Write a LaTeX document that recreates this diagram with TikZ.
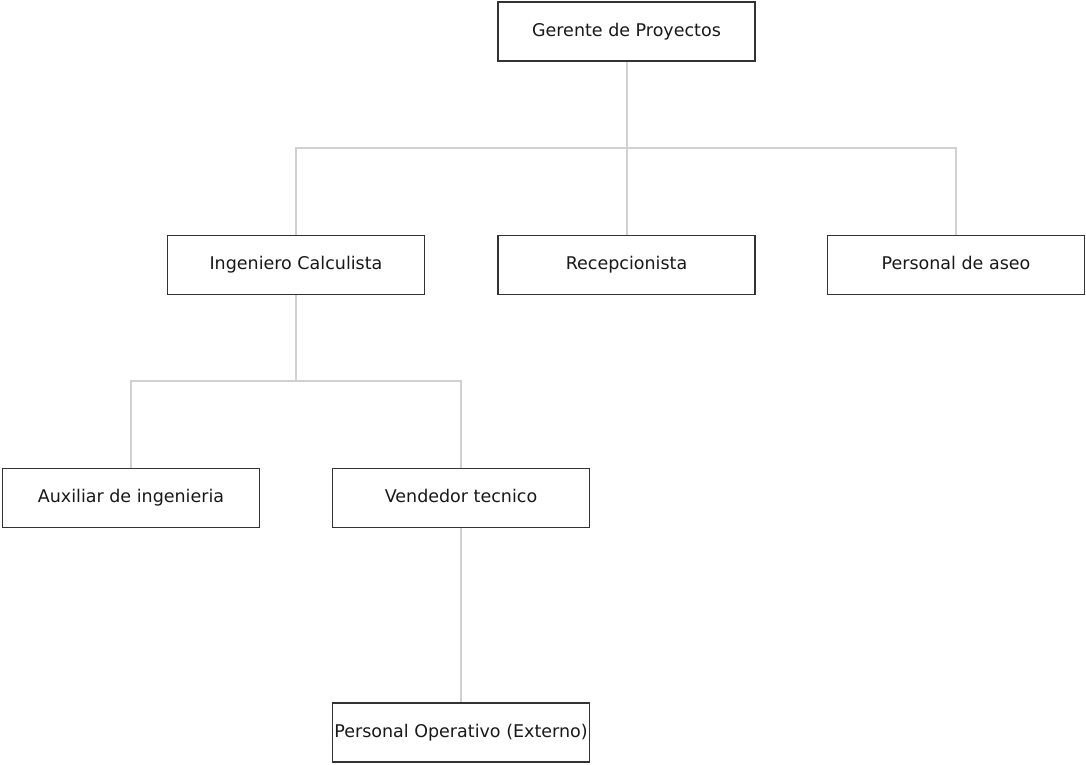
\documentclass[tikz,border=0pt]{standalone}
\usepackage{fontspec}
\setmainfont{DejaVu Sans}
\usetikzlibrary{backgrounds}
\begin{document}
\begin{tikzpicture}[x=1pt,y=-1pt,
  box/.style={draw=black!80, line width=1.5pt, fill=white, minimum width=257pt, minimum height=59pt, inner sep=0pt, text height=12.5pt, text depth=3.5pt, text=black!90, font=\fontsize{17.5}{20}\selectfont},
  link/.style={draw=black!18, line width=2pt}]
\useasboundingbox (0,0) rectangle (1086,764);
\node[box] (g) at (626.5,31.5) {Gerente de Proyectos};
\node[box] (ing) at (296,265) {Ingeniero Calculista};
\node[box] (rec) at (626.5,265) {Recepcionista};
\node[box] (aseo) at (956,265) {Personal de aseo};
\node[box] (aux) at (131,498) {Auxiliar de ingenieria};
\node[box] (ven) at (461,498) {Vendedor tecnico};
\node[box] (ope) at (461,732.5) {Personal Operativo (Externo)};
\coordinate (bus1) at (0,148);
\coordinate (bus2) at (0,381);
\begin{scope}[on background layer]
\draw[link] (g.south) -- (g.south |- bus1) -| (ing.north);
\draw[link] (g.south |- bus1) -| (aseo.north);
\draw[link] (g.south) -- (rec.north);
\draw[link] (ing.south) -- (ing.south |- bus2) -| (aux.north);
\draw[link] (ing.south |- bus2) -| (ven.north);
\draw[link] (ven.south) -- (ope.north);
\end{scope}
\end{tikzpicture}
\end{document}
